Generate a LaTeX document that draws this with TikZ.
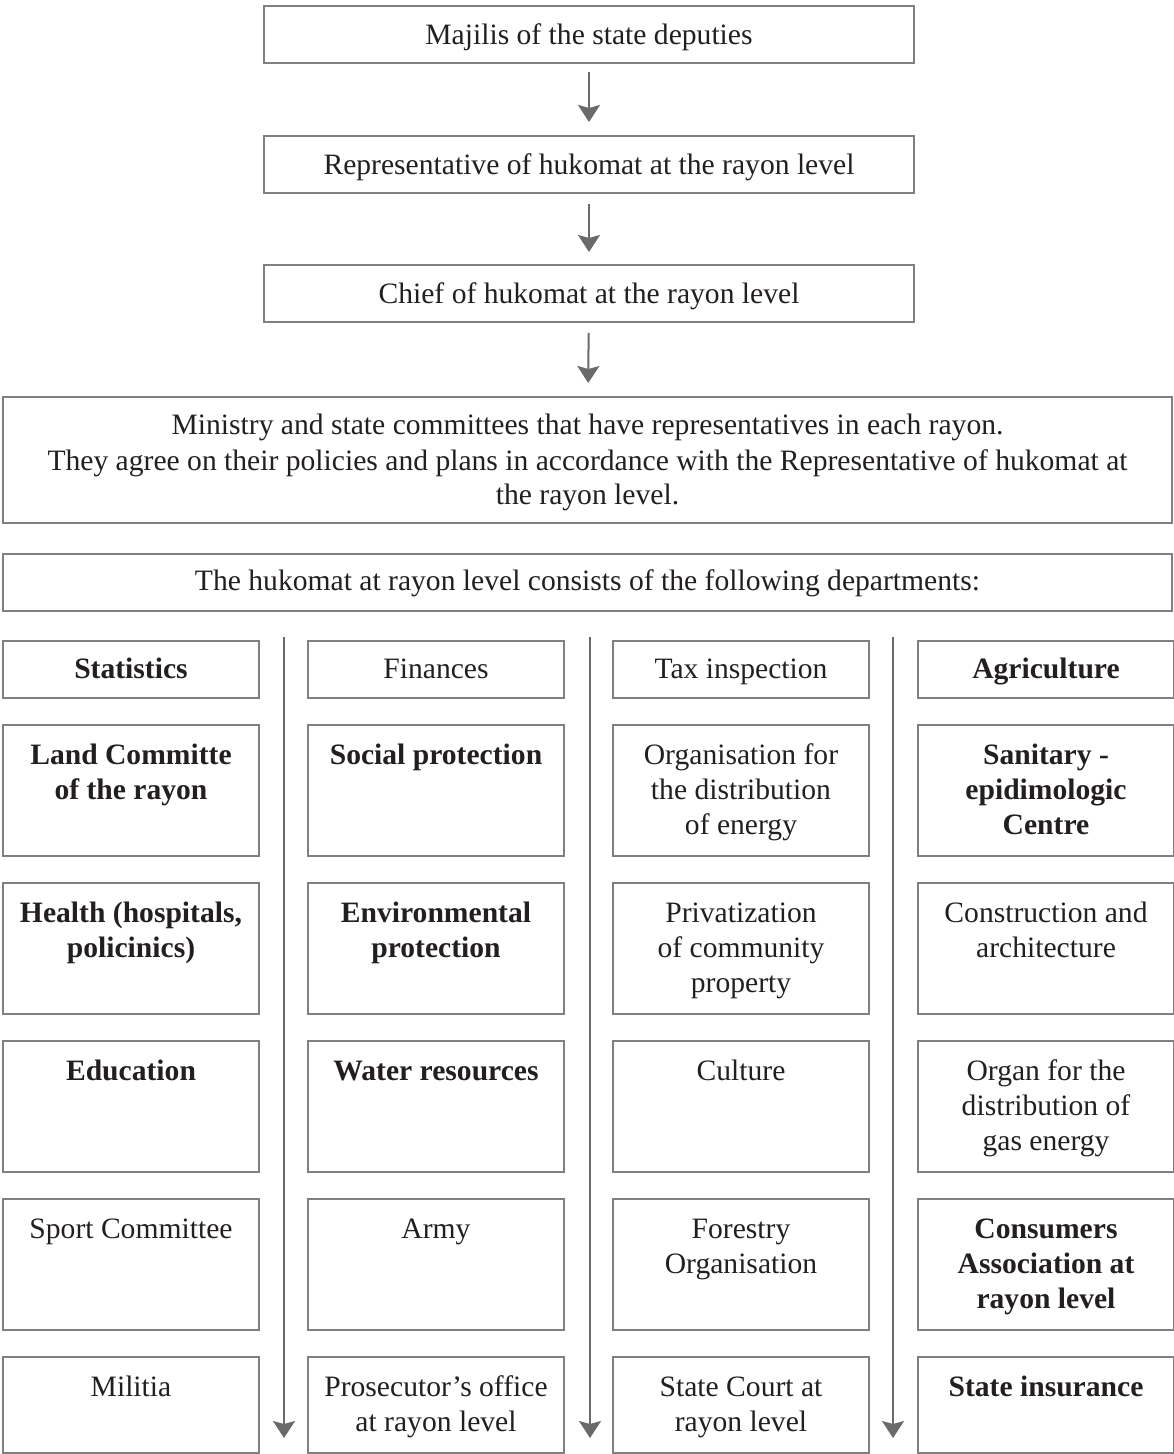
\documentclass[tikz,border=0pt]{standalone}
\usepackage{fontspec}
\setmainfont{Liberation Serif}
\usetikzlibrary{arrows.meta}
\definecolor{boxgray}{HTML}{808080}
\definecolor{arrowgray}{HTML}{6A6A6A}
\definecolor{ink}{HTML}{231F20}
\tikzset{
  box/.style={draw=boxgray, line width=1pt, inner sep=0pt, anchor=north west,
    text=ink, font=\fontsize{14.8pt}{17.5pt}\selectfont},
  flow/.style={draw=arrowgray, line width=1pt,
    -{Stealth[length=8.5pt,width=11pt,inset=1.5pt]}}
}
% #1 name, #2 x, #3 y (top), #4 width, #5 height, #6 first baseline, #7 text
\newcommand\orgbox[7]{%
  \node[box] (#1) at (#2,#3)
    {\parbox[c][#5][t]{#4}{\centering\rule{0pt}{#6}#7}};}
% department cell of the grid
\newcommand\deptcell[5]{\orgbox{#1}{#2}{#3}{128pt}{#4}{#5}}
\begin{document}
\begin{tikzpicture}[x=0.5pt,y=-0.5pt]
\useasboundingbox (0,0) rectangle (1173,1454);

% chain of command
\orgbox{majilis}{263}{5}{325pt}{28.5pt}{19.5pt}{Majilis of the state deputies}
\orgbox{repr}{263}{135}{325pt}{28.5pt}{19.5pt}{Representative of hukomat at the rayon level}
\orgbox{chief}{263}{264}{325pt}{28.5pt}{19.5pt}{Chief of hukomat at the rayon level}
\orgbox{ministry}{2}{396}{584.5pt}{63pt}{19pt}{Ministry and state committees that have representatives in each rayon.\\
They agree on their policies and plans in accordance with the Representative of hukomat at\\
the rayon level.}
\orgbox{consists}{2}{553}{584.5pt}{28.5pt}{18pt}{The hukomat at rayon level consists of the following departments:}

\draw[flow, shorten <=4pt, shorten >=6.5pt] (majilis) -- (repr);
\draw[flow, shorten <=5pt, shorten >=6pt] (repr) -- (chief);
\draw[flow, shorten <=5pt, shorten >=6.5pt] (chief) -- (ministry);

% departments, row by row
\deptcell{c11}{2}{640}{28.5pt}{18.8pt}{\textbf{Statistics}}
\deptcell{c12}{307}{640}{28.5pt}{18.8pt}{Finances}
\deptcell{c13}{612}{640}{28.5pt}{18.8pt}{Tax inspection}
\deptcell{c14}{917}{640}{28.5pt}{18.8pt}{\textbf{Agriculture}}

\deptcell{c21}{2}{724}{65.5pt}{19.8pt}{\textbf{Land Committe\\ of the rayon}}
\deptcell{c22}{307}{724}{65.5pt}{19.8pt}{\textbf{Social protection}}
\deptcell{c23}{612}{724}{65.5pt}{19.8pt}{Organisation for\\ the distribution\\ of energy}
\deptcell{c24}{917}{724}{65.5pt}{19.8pt}{\textbf{Sanitary -\\ epidimologic\\ Centre}}

\deptcell{c31}{2}{882}{65.5pt}{19.8pt}{\textbf{Health (hospitals,\\ policinics)}}
\deptcell{c32}{307}{882}{65.5pt}{19.8pt}{\textbf{Environmental\\ protection}}
\deptcell{c33}{612}{882}{65.5pt}{19.8pt}{Privatization\\ of community\\ property}
\deptcell{c34}{917}{882}{65.5pt}{19.8pt}{Construction and\\ architecture}

\deptcell{c41}{2}{1040}{65.5pt}{19.8pt}{\textbf{Education}}
\deptcell{c42}{307}{1040}{65.5pt}{19.8pt}{\textbf{Water resources}}
\deptcell{c43}{612}{1040}{65.5pt}{19.8pt}{Culture}
\deptcell{c44}{917}{1040}{65.5pt}{19.8pt}{Organ for the\\ distribution of\\ gas energy}

\deptcell{c51}{2}{1198}{65.5pt}{19.8pt}{Sport Committee}
\deptcell{c52}{307}{1198}{65.5pt}{19.8pt}{Army}
\deptcell{c53}{612}{1198}{65.5pt}{19.8pt}{Forestry\\ Organisation}
\deptcell{c54}{917}{1198}{65.5pt}{19.8pt}{\textbf{Consumers\\ Association at\\ rayon level}}

\deptcell{c61}{2}{1356}{48pt}{19.8pt}{Militia}
\deptcell{c62}{307}{1356}{48pt}{19.8pt}{Prosecutor's office\\ at rayon level}
\deptcell{c63}{612}{1356}{48pt}{19.8pt}{State Court at\\ rayon level}
\deptcell{c64}{917}{1356}{48pt}{19.8pt}{\textbf{State insurance}}

% downward flow between the columns
\coordinate (g1top) at (284,637);  \coordinate (g1end) at (284,1438);
\coordinate (g2top) at (590,637);  \coordinate (g2end) at (590,1438);
\coordinate (g3top) at (893,637);  \coordinate (g3end) at (893,1438);
\draw[flow] (g1top) -- (g1end);
\draw[flow] (g2top) -- (g2end);
\draw[flow] (g3top) -- (g3end);
\end{tikzpicture}
\end{document}
